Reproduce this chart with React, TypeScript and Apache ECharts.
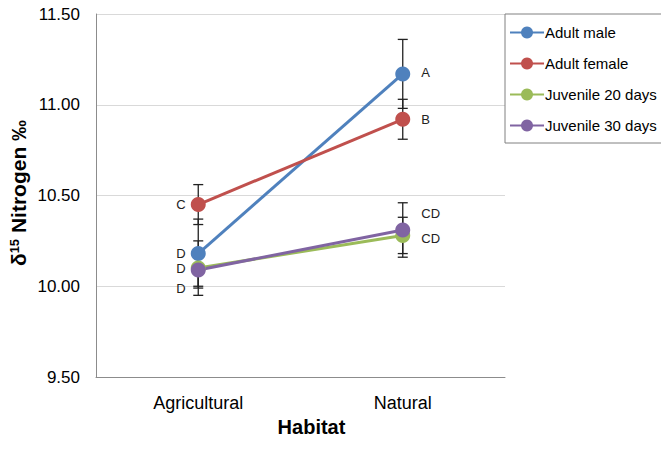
import React, { useEffect, useRef } from "react";
import * as echarts from "echarts";

const categories = ["Agricultural", "Natural"];
const seriesNames = ["Adult male", "Adult female", "Juvenile 20 days", "Juvenile 30 days"];
const colors = ["#4F81BD", "#C0504D", "#9BBB59", "#8064A2"];
const adultMale = [10.18, 11.17];
const adultFemale = [10.45, 10.92];
const juvenile20 = [10.10, 10.28];
const juvenile30 = [10.09, 10.31];
const errMale = [0.19, 0.19];
const errFemale = [0.11, 0.11];
const errJuv20 = [0.15, 0.10];
const errJuv30 = [0.09, 0.15];
const lettersMale = ["D", "A"];
const lettersFemale = ["C", "B"];
const lettersJuv20 = ["D", "CD"];
const lettersJuv30 = ["D", "CD"];
const yTicks = [9.5, 10.0, 10.5, 11.0, 11.5];

const FONT = "'Liberation Sans', Arial, sans-serif";

export default function App() {
  const ref = useRef<HTMLDivElement>(null);
  useEffect(() => {
    if (!ref.current) return;
    const chart = echarts.init(ref.current, undefined, { renderer: "svg" });
    const values = [adultMale, adultFemale, juvenile20, juvenile30];
    const errs = [errMale, errFemale, errJuv20, errJuv30];
    const letters = [lettersMale, lettersFemale, lettersJuv20, lettersJuv30];
    // label offsets per series per category [dx, dy]
    const offsets = [
      [[-5, 0], [11, -1]],
      [[-5, 0], [11, 0]],
      [[-5, 0], [11, 3]],
      [[-5, 19], [11, -16]],
    ];
    const lineSeries = values.map((vals, si) => ({
      name: seriesNames[si],
      type: "line",
      z: 3,
      symbol: "circle",
      symbolSize: 15,
      lineStyle: { width: 3, color: colors[si] },
      itemStyle: { color: colors[si] },
      data: vals.map((v, ci) => ({
        value: v,
        label: {
          show: true,
          formatter: letters[si][ci],
          position: ci === 0 ? "left" : "right",
          distance: 0,
          offset: offsets[si][ci],
          color: "#222",
          fontFamily: FONT,
          fontSize: 13,
        },
      })),
    }));
    const errSeries = values.map((vals, si) => ({
      type: "custom",
      z: 2,
      silent: true,
      data: vals.map((v, ci) => [ci, v - errs[si][ci], v + errs[si][ci]]),
      renderItem: (params: any, api: any) => {
        const lo = api.coord([api.value(0), api.value(1)]);
        const hi = api.coord([api.value(0), api.value(2)]);
        const hw = 5;
        const style = { stroke: "#222", lineWidth: 1.3 };
        return {
          type: "group",
          children: [
            { type: "line", shape: { x1: lo[0], y1: lo[1], x2: hi[0], y2: hi[1] }, style },
            { type: "line", shape: { x1: lo[0] - hw, y1: lo[1], x2: lo[0] + hw, y2: lo[1] }, style },
            { type: "line", shape: { x1: hi[0] - hw, y1: hi[1], x2: hi[0] + hw, y2: hi[1] }, style },
          ],
        };
      },
    }));
    chart.setOption({
      animation: false,
      backgroundColor: "#fff",
      textStyle: { fontFamily: FONT },
      grid: { left: 96, top: 14, width: 409, height: 363 },
      graphic: [
        {
          type: "text",
          x: 18,
          y: 193,
          rotation: Math.PI / 2,
          style: {
            text: "{a|δ}{s|15}{a| Nitrogen ‰}",
            align: "center",
            verticalAlign: "middle",
            rich: {
              a: { fontSize: 21, fontWeight: "bold", fill: "#000", fontFamily: FONT },
              s: { fontSize: 13, fontWeight: "bold", fill: "#000", fontFamily: FONT, verticalAlign: "top", padding: [0, 0, 8, 0] },
            },
          },
        },
      ],
      legend: {
        data: seriesNames,
        orient: "vertical",
        left: 505,
        top: 14,
        padding: [11, 6, 10, 4],
        itemGap: 16,
        itemWidth: 34,
        itemHeight: 15,
        borderColor: "#808080",
        borderWidth: 1,
        borderRadius: 0,
        backgroundColor: "#fff",
        textStyle: { fontFamily: FONT, fontSize: 15, color: "#000", padding: [0, 0, 0, -4] },
      },
      xAxis: {
        type: "category",
        data: categories,
        boundaryGap: true,
        axisLine: { lineStyle: { color: "#8c8c8c", width: 1 } },
        axisTick: { show: false },
        axisLabel: { color: "#000", fontSize: 18, fontFamily: FONT, margin: 17 },
        name: "Habitat",
        nameLocation: "middle",
        nameGap: 30,
        nameTextStyle: { color: "#000", fontSize: 20, fontWeight: "bold", fontFamily: FONT, padding: [0, 0, 0, 22] },
      },
      yAxis: {
        type: "value",
        min: yTicks[0],
        max: yTicks[yTicks.length - 1],
        interval: 0.5,
        axisLine: { show: true, lineStyle: { color: "#8c8c8c", width: 1 } },
        axisTick: { show: false },
        splitLine: { lineStyle: { color: "#d9d9d9", width: 1 } },
        axisLabel: {
          color: "#000",
          fontSize: 17,
          fontFamily: FONT,
          margin: 16,
          formatter: (v: number) => v.toFixed(2),
        },
      },
      series: [...errSeries, ...lineSeries],
    });
    return () => chart.dispose();
  }, []);
  return <div ref={ref} style={{ width: 669, height: 474, marginLeft: -8, marginTop: -8 }} />;
}
